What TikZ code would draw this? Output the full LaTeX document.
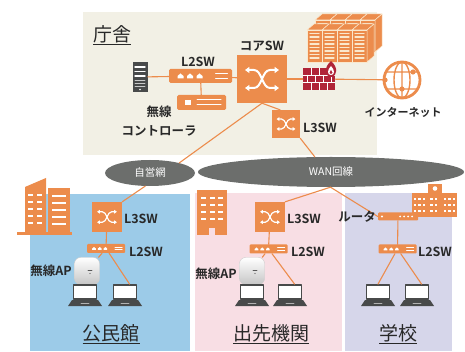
\documentclass[tikz,border=0pt]{standalone}
\usepackage{fontspec}
\setmainfont{Noto Sans CJK JP}[BoldFont={Noto Sans CJK JP Bold}]
\usetikzlibrary{arrows.meta,shapes.geometric}

\definecolor{orng}{RGB}{236,140,76}
\definecolor{cream}{RGB}{250,232,205}
\definecolor{beige}{RGB}{242,240,229}
\definecolor{kblue}{RGB}{156,203,232}
\definecolor{dpink}{RGB}{248,222,228}
\definecolor{slav}{RGB}{214,214,234}
\definecolor{netgray}{RGB}{108,110,108}
\definecolor{fwred}{RGB}{176,36,56}
\definecolor{devgray}{RGB}{72,74,74}
\definecolor{ink}{RGB}{40,40,40}

\begin{document}
\begin{tikzpicture}[x=1pt, y=-1pt, line cap=round, line join=round,
	link/.style={draw=orng, line width=1.1pt},
	swbox/.style={fill=orng, inner sep=0pt},
	l2box/.style={fill=orng, rounded corners=1pt, inner sep=0pt, minimum width=38pt, minimum height=9pt},
	lbl/.style={font=\fontsize{12.5}{19}\selectfont\bfseries, text=ink},
	title/.style={font=\fontsize{19}{20}\selectfont, text=ink},
	net/.style={ellipse, fill=netgray, text=white, inner sep=0pt, font=\fontsize{10.5}{11}\selectfont},
	tip/.style={{Triangle[length=0pt 2.2, width=0pt 3]}-{Triangle[length=0pt 2.2, width=0pt 3]}},
	% crossed arrows of a switch
	xsw/.pic={
		\draw[white, tip] (-17,-9) -- (-8,-9) .. controls (0,-9) and (0,9) .. (8,9) -- (17,9);
		\draw[white, tip] (-17,9) -- (-8,9) .. controls (0,9) and (0,-9) .. (8,-9) -- (17,-9);
	},
	% ports of an L2 switch
	ports/.pic={
		\foreach \px in {-20,-10.5,-1}
		\fill[white] (\px-3,2.5) -- (\px-3,0) -- (\px,-2.5) -- (\px+3,0) -- (\px+3,2.5) -- cycle;
		\draw[white, line width=1pt] (15,-2.2) -- (27,-2.2) (15,2.2) -- (27,2.2);
	},
	laptop/.pic={
		\fill[devgray] (-13,8) -- (13,8) -- (17,14) -- (-17,14) -- cycle;
		\draw[gray!60, line width=0.8pt] (-4,11.5) -- (4,11.5);
		\node[draw=devgray, line width=1.8pt, fill=white, minimum width=23pt, minimum height=14pt, inner sep=0pt] (-scr) at (0,0) {};
	},
	ap/.pic={
		\node[rounded corners=6pt, minimum width=25pt, minimum height=27pt, top color=white, bottom color=gray!45, draw=gray!40, inner sep=0pt] (-box) at (0,0) {};
		\draw[gray!70!black, line width=0.8pt] (1,-1) -- (5,-1);
		\fill[gray!70!black] (3,2.5) circle[radius=0.6pt];
	},
	rack/.pic={
		\filldraw[fill=orng, draw=cream, line width=0.5pt] (0,0) -- (7,-6) -- (22,-6) -- (15,0) -- cycle;
		\filldraw[fill=orng, draw=cream, line width=0.5pt] (0,0) rectangle (15,32);
		\foreach \sy in {3.5,7,...,29}
		\draw[cream, line width=1.2pt] (3,\sy) -- (12,\sy);
	}]
	
	\useasboundingbox (0,0) rectangle (465,352);
	
	% Panels
	\fill[beige] (83,12) rectangle (377,155);
	\fill[kblue] (30,194) rectangle (190,351);
	\fill[dpink] (195,193) rectangle (342,351);
	\fill[slav] (345,193) rectangle (452,351);
	
	% Server racks (back row, then front row)
	\foreach \i in {0,...,3}
	\pic at (315+15*\i,20) {rack};
	\filldraw[fill=orng, draw=cream, line width=0.5pt] (375,20) -- (382,14) -- (382,46) -- (375,52) -- cycle;
	\foreach \i in {0,...,3}
	\pic at (307+15*\i,30) {rack};
	\filldraw[fill=orng, draw=cream, line width=0.5pt] (367,30) -- (374,24) -- (374,56) -- (367,62) -- cycle;
	
	% Main office devices
	\node[fill=devgray, minimum width=15pt, minimum height=30pt, inner sep=0pt] (srv) at (140,77) {};
	\draw[white, line width=1.4pt] (135,67) -- (145,67) (135,71.5) -- (145,71.5) (135,76) -- (145,76);
	\draw[white!70!devgray, line width=0.6pt] (135,80) -- (145,80) (135,83) -- (145,83) (135,86) -- (145,86);
	\fill[white] (140,89.5) circle[radius=0.9pt];
	
	\node[swbox, rounded corners=1.5pt, minimum width=63pt, minimum height=14pt] (l2) at (200.5,76) {};
	\pic at (l2) {ports};
	
	\node[swbox, rounded corners=1.5pt, minimum width=49pt, minimum height=15pt] (wlc) at (201.5,102.5) {};
	\fill[white] (185,100) rectangle (191,105);
	\draw[white, line width=1pt] (197,99.5) -- (221,99.5) (197,105) -- (221,105);
	
	\node[swbox, minimum width=50pt, minimum height=48pt] (core) at (262,79) {};
	\pic[line width=2pt] at (core) {xsw};
	
	\node[swbox, minimum size=28pt] (l3) at (286,124) {};
	\pic[scale=0.55, line width=1.2pt] at (l3) {xsw};
	
	% Firewall
	\node[fill=fwred, minimum width=32pt, minimum height=22pt, inner sep=0pt] (fw) at (319,79) {};
	\draw[white, line width=0.8pt] (303,75.3) -- (335,75.3) (303,82.6) -- (335,82.6)
	(311,68) -- (311,75.3) (319,68) -- (319,75.3) (327,68) -- (327,75.3)
	(307,75.3) -- (307,82.6) (315,75.3) -- (315,82.6) (323,75.3) -- (323,82.6) (331,75.3) -- (331,82.6)
	(311,82.6) -- (311,90) (319,82.6) -- (319,90) (327,82.6) -- (327,90);
	\fill[fwred] (331,61) .. controls (338,67) and (338,76) .. (331,77) .. controls (324,76) and (324,67) .. (331,61);
	\fill[white] (331,66) .. controls (335,70) and (335,75) .. (331,75) .. controls (327,75) and (327,70) .. (331,66);
	\fill[fwred] (331,70) .. controls (333,72) and (333,74) .. (331,74) .. controls (329,74) and (329,72) .. (331,70);
	
	% Internet
	\node[circle, draw=orng, line width=2.8pt, fill=white, minimum size=36pt, inner sep=0pt] (globe) at (402,80) {};
	\draw[orng, line width=1.4pt] (402,62) -- (402,98) (402,80) ellipse[x radius=8pt, y radius=18pt]
	(386,72) -- (418,72) (386,89) -- (418,89);
	\fill[orng] (385,80) circle[radius=2.6pt] (402,89) circle[radius=2.6pt] (413,72) circle[radius=2.6pt];
	
	% Networks
	\node[net, minimum width=90pt, minimum height=26pt] (own) at (150,173) {自営網};
	\node[net, minimum width=266pt, minimum height=30pt] (wan) at (331,172) {WAN回線};
	
	% Community hall
	\fill[orng] (25,187) -- (46,178) -- (46,233) -- (25,233) -- cycle;
	\fill[orng] (48,188) rectangle (70,233);
	\fill[orng] (17,232) rectangle (72,235);
	\foreach \wy in {194,201,...,226} {
		\fill[white] (28,\wy) rectangle (33,\wy+2.2);
		\fill[white] (37,\wy) rectangle (42,\wy+2.2);
	}
	\foreach \wy in {195,202,...,226}
	\fill[white] (52,\wy) rectangle (66,\wy+2.2);
	\node[swbox, minimum size=30pt] (kl3) at (107,217) {};
	\pic[scale=0.58, line width=1.2pt] at (kl3) {xsw};
	\node[l2box] (kl2) at (106,248.5) {};
	\pic[scale=0.6] at (kl2) {ports};
	\pic (kap) at (87,271) {ap};
	\pic (kpc1) at (85,292) {laptop};
	\pic (kpc2) at (125,292) {laptop};
	
	% Branch office
	\fill[orng] (197,190) rectangle (227,235);
	\foreach \wy in {197,204,211,218}
	\foreach \wx in {201,209.5,218}
	\fill[white] (\wx,\wy) rectangle (\wx+5,\wy+2.5);
	\fill[dpink] (209,228) rectangle (215,235);
	\node[swbox, minimum size=30pt] (dl3) at (270,217) {};
	\pic[scale=0.58, line width=1.2pt] at (dl3) {xsw};
	\node[l2box] (dl2) at (268.5,249) {};
	\pic[scale=0.6] at (dl2) {ports};
	\pic (dap) at (252,271) {ap};
	\pic (dpc1) at (252,292) {laptop};
	\pic (dpc2) at (290,292) {laptop};
	
	% School
	\fill[orng] (412,193) rectangle (457,217);
	\fill[orng] (428,184) rectangle (442,193);
	\fill[white] (435,188.5) circle[radius=2.3pt];
	\foreach \wy in {198,204,210}
	\foreach \wx in {415,419.5,424,431.5,436,445,449.5,454}
	\fill[white] (\wx-1.3,\wy) rectangle (\wx+1.3,\wy+2);
	\node[swbox, rounded corners=1pt, minimum width=40pt, minimum height=8pt] (rt) at (398,216.5) {};
	\fill[white] (382,216.5) circle[radius=1.2pt];
	\foreach \dx in {400,404,408,412}
	\fill[white] (\dx,216.5) circle[radius=1pt];
	\node[l2box] (sl2) at (397.5,249) {};
	\pic[scale=0.6] at (sl2) {ports};
	\pic (spc1) at (378,292) {laptop};
	\pic (spc2) at (417,292) {laptop};
	
	% Links
	\draw[link] (srv) -- (l2);
	\draw[link] (l2) -- (core);
	\draw[link] (l2) -- (wlc);
	\draw[link] (core) -- (fw);
	\draw[link] (fw) -- (globe);
	\draw[link] (core.south) -- ([xshift=-6pt]l3.north);
	\draw[link] (l3.south east) -- (wan.137);
	\draw[link] (core.south) -- (own.19);
	\draw[link] (own.-110) -- (kl3.north east);
	\draw[link] (kl3) -- (kl2);
	\draw[link] (kl2) -- (kap-box);
	\draw[link] (kl2) -- (kpc2-scr.60);
	\draw[link] (wan.-92) -- (dl3.north east);
	\draw[link] (dl3) -- (dl2);
	\draw[link] (dl2) -- (dap-box);
	\draw[link] (dl2) -- (dpc2-scr.60);
	\draw[link] (wan.-92) -- (rt.west);
	\draw[link] (rt) -- (sl2);
	\draw[link] (sl2) -- (spc1-scr.north);
	\draw[link] (sl2) -- (spc2-scr.60);
	
	% Labels
	\node[title] at (112,35) {\underline{庁舎}};
	\node[lbl] at (198,62) {L2SW};
	\node[lbl] at (262,46) {コアSW};
	\node[lbl, align=center] at (159,121) {無線\\コントローラ};
	\node[lbl] at (320,128) {L3SW};
	\node[lbl, font=\fontsize{11}{12}\selectfont\bfseries] at (403,112) {インターネット};
	\node[lbl] at (141,219) {L3SW};
	\node[lbl] at (146,252) {L2SW};
	\node[lbl] at (51,271) {無線AP};
	\node[lbl] at (304,219) {L3SW};
	\node[lbl] at (308,252) {L2SW};
	\node[lbl] at (216,274) {無線AP};
	\node[lbl] at (357,217) {ルータ};
	\node[lbl] at (435,252) {L2SW};
	\node[title] at (111,334) {\underline{公民館}};
	\node[title] at (271,334) {\underline{出先機関}};
	\node[title] at (398,334) {\underline{学校}};
	
\end{tikzpicture}
\end{document}
